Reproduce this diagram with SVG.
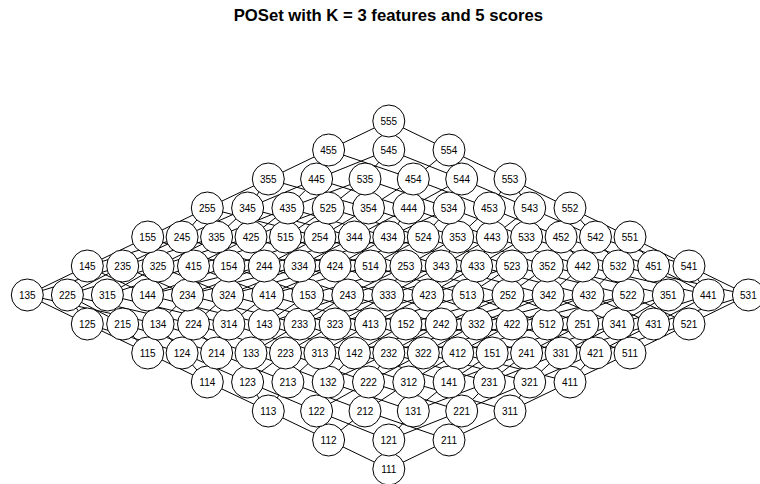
<svg xmlns="http://www.w3.org/2000/svg" width="760" height="484" viewBox="0 0 760 484">
<style>
.e path{stroke:#000;stroke-width:1;fill:none}
.n circle{fill:#fff;stroke:#000;stroke-width:1}
.n text{font-family:"Liberation Sans",Arial,sans-serif;font-size:10px;text-anchor:middle;fill:#000}
.title{font-family:"Liberation Sans",Arial,sans-serif;font-size:16.7px;font-weight:bold;text-anchor:middle;fill:#000}
</style>
<rect width="760" height="484" fill="#fff"/>
<text class="title" x="388.3" y="21">POSet with K = 3 features and 5 scores</text>
<g id="edges" class="e">
<path d="M388.8 469L449 440M388.8 469L388.8 440M388.8 469L328.6 440"/>
<path d="M328.6 440L365 411M328.6 440L316.6 411M328.6 440L268.3 411"/>
<path d="M388.8 440L461.7 411M388.8 440L413.3 411M388.8 440L316.6 411"/>
<path d="M449 440L510 411M449 440L461.7 411M449 440L365 411"/>
<path d="M268.3 411L287.9 382M268.3 411L247.6 382M268.3 411L207.3 382"/>
<path d="M316.6 411L368.5 382M316.6 411L328.2 382M316.6 411L247.6 382"/>
<path d="M365 411L408.8 382M365 411L368.5 382M365 411L287.9 382"/>
<path d="M413.3 411L489.4 382M413.3 411L449.1 382M413.3 411L328.2 382"/>
<path d="M461.7 411L529.7 382M461.7 411L489.4 382M461.7 411L368.5 382"/>
<path d="M510 411L570 382M510 411L529.7 382M510 411L408.8 382"/>
<path d="M207.3 382L216.6 353M207.3 382L182.1 353M207.3 382L147.7 353"/>
<path d="M247.6 382L285.5 353M247.6 382L251 353M247.6 382L182.1 353"/>
<path d="M287.9 382L319.9 353M287.9 382L285.5 353M287.9 382L216.6 353"/>
<path d="M328.2 382L388.8 353M328.2 382L354.4 353M328.2 382L251 353"/>
<path d="M368.5 382L423.3 353M368.5 382L388.8 353M368.5 382L285.5 353"/>
<path d="M408.8 382L457.7 353M408.8 382L423.3 353M408.8 382L319.9 353"/>
<path d="M449.1 382L526.6 353M449.1 382L492.2 353M449.1 382L354.4 353"/>
<path d="M489.4 382L561.1 353M489.4 382L526.6 353M489.4 382L388.8 353"/>
<path d="M529.7 382L595.5 353M529.7 382L561.1 353M529.7 382L423.3 353"/>
<path d="M570 382L630 353M570 382L595.5 353M570 382L457.7 353"/>
<path d="M147.7 353L122.7 324M147.7 353L87.3 324"/>
<path d="M182.1 353L193.5 324M182.1 353L158.1 324M182.1 353L87.3 324"/>
<path d="M216.6 353L228.9 324M216.6 353L193.5 324M216.6 353L122.7 324"/>
<path d="M251 353L299.7 324M251 353L264.3 324M251 353L158.1 324"/>
<path d="M285.5 353L335.1 324M285.5 353L299.7 324M285.5 353L193.5 324"/>
<path d="M319.9 353L370.5 324M319.9 353L335.1 324M319.9 353L228.9 324"/>
<path d="M354.4 353L441.2 324M354.4 353L405.9 324M354.4 353L264.3 324"/>
<path d="M388.8 353L476.6 324M388.8 353L441.2 324M388.8 353L299.7 324"/>
<path d="M423.3 353L512 324M423.3 353L476.6 324M423.3 353L335.1 324"/>
<path d="M457.7 353L547.4 324M457.7 353L512 324M457.7 353L370.5 324"/>
<path d="M492.2 353L582.8 324M492.2 353L405.9 324"/>
<path d="M526.6 353L618.2 324M526.6 353L582.8 324M526.6 353L441.2 324"/>
<path d="M561.1 353L653.6 324M561.1 353L618.2 324M561.1 353L476.6 324"/>
<path d="M595.5 353L689 324M595.5 353L653.6 324M595.5 353L512 324"/>
<path d="M630 353L689 324M630 353L547.4 324"/>
<path d="M87.3 324L67.4 295M87.3 324L27.3 295"/>
<path d="M122.7 324L107.4 295M122.7 324L67.4 295"/>
<path d="M158.1 324L187.5 295M158.1 324L147.5 295M158.1 324L27.3 295"/>
<path d="M193.5 324L227.6 295M193.5 324L187.5 295M193.5 324L67.4 295"/>
<path d="M228.9 324L267.7 295M228.9 324L227.6 295M228.9 324L107.4 295"/>
<path d="M264.3 324L347.8 295M264.3 324L307.7 295M264.3 324L147.5 295"/>
<path d="M299.7 324L387.8 295M299.7 324L347.8 295M299.7 324L187.5 295"/>
<path d="M335.1 324L427.9 295M335.1 324L387.8 295M335.1 324L227.6 295"/>
<path d="M370.5 324L467.9 295M370.5 324L427.9 295M370.5 324L267.7 295"/>
<path d="M405.9 324L508 295M405.9 324L307.7 295"/>
<path d="M441.2 324L548.1 295M441.2 324L508 295M441.2 324L347.8 295"/>
<path d="M476.6 324L588.1 295M476.6 324L548.1 295M476.6 324L387.8 295"/>
<path d="M512 324L628.2 295M512 324L588.1 295M512 324L427.9 295"/>
<path d="M547.4 324L628.2 295M547.4 324L467.9 295"/>
<path d="M582.8 324L668.3 295M582.8 324L508 295"/>
<path d="M618.2 324L708.3 295M618.2 324L668.3 295M618.2 324L548.1 295"/>
<path d="M653.6 324L748.4 295M653.6 324L708.3 295M653.6 324L588.1 295"/>
<path d="M689 324L748.4 295M689 324L628.2 295"/>
<path d="M27.3 295L122.7 266M27.3 295L87.3 266"/>
<path d="M67.4 295L158.1 266M67.4 295L122.7 266"/>
<path d="M107.4 295L193.5 266M107.4 295L158.1 266"/>
<path d="M147.5 295L264.3 266M147.5 295L228.9 266M147.5 295L87.3 266"/>
<path d="M187.5 295L299.7 266M187.5 295L264.3 266M187.5 295L122.7 266"/>
<path d="M227.6 295L335.1 266M227.6 295L299.7 266M227.6 295L158.1 266"/>
<path d="M267.7 295L370.5 266M267.7 295L335.1 266M267.7 295L193.5 266"/>
<path d="M307.7 295L405.9 266M307.7 295L228.9 266"/>
<path d="M347.8 295L441.2 266M347.8 295L405.9 266M347.8 295L264.3 266"/>
<path d="M387.8 295L476.6 266M387.8 295L441.2 266M387.8 295L299.7 266"/>
<path d="M427.9 295L512 266M427.9 295L476.6 266M427.9 295L335.1 266"/>
<path d="M467.9 295L512 266M467.9 295L370.5 266"/>
<path d="M508 295L547.4 266M508 295L405.9 266"/>
<path d="M548.1 295L582.8 266M548.1 295L547.4 266M548.1 295L441.2 266"/>
<path d="M588.1 295L618.2 266M588.1 295L582.8 266M588.1 295L476.6 266"/>
<path d="M628.2 295L618.2 266M628.2 295L512 266"/>
<path d="M668.3 295L653.6 266M668.3 295L547.4 266"/>
<path d="M708.3 295L689 266M708.3 295L653.6 266M708.3 295L582.8 266"/>
<path d="M748.4 295L689 266M748.4 295L618.2 266"/>
<path d="M87.3 266L182.1 237M87.3 266L147.7 237"/>
<path d="M122.7 266L216.6 237M122.7 266L182.1 237"/>
<path d="M158.1 266L251 237M158.1 266L216.6 237"/>
<path d="M193.5 266L285.5 237M193.5 266L251 237"/>
<path d="M228.9 266L319.9 237M228.9 266L147.7 237"/>
<path d="M264.3 266L354.4 237M264.3 266L319.9 237M264.3 266L182.1 237"/>
<path d="M299.7 266L388.8 237M299.7 266L354.4 237M299.7 266L216.6 237"/>
<path d="M335.1 266L423.3 237M335.1 266L388.8 237M335.1 266L251 237"/>
<path d="M370.5 266L423.3 237M370.5 266L285.5 237"/>
<path d="M405.9 266L457.7 237M405.9 266L319.9 237"/>
<path d="M441.2 266L492.2 237M441.2 266L457.7 237M441.2 266L354.4 237"/>
<path d="M476.6 266L526.6 237M476.6 266L492.2 237M476.6 266L388.8 237"/>
<path d="M512 266L526.6 237M512 266L423.3 237"/>
<path d="M547.4 266L561.1 237M547.4 266L457.7 237"/>
<path d="M582.8 266L595.5 237M582.8 266L561.1 237M582.8 266L492.2 237"/>
<path d="M618.2 266L595.5 237M618.2 266L526.6 237"/>
<path d="M653.6 266L630 237M653.6 266L561.1 237"/>
<path d="M689 266L630 237M689 266L595.5 237"/>
<path d="M147.7 237L207.3 208"/>
<path d="M182.1 237L247.6 208M182.1 237L207.3 208"/>
<path d="M216.6 237L287.9 208M216.6 237L247.6 208"/>
<path d="M251 237L328.2 208M251 237L287.9 208"/>
<path d="M285.5 237L328.2 208"/>
<path d="M319.9 237L368.5 208M319.9 237L207.3 208"/>
<path d="M354.4 237L408.8 208M354.4 237L368.5 208M354.4 237L247.6 208"/>
<path d="M388.8 237L449.1 208M388.8 237L408.8 208M388.8 237L287.9 208"/>
<path d="M423.3 237L449.1 208M423.3 237L328.2 208"/>
<path d="M457.7 237L489.4 208M457.7 237L368.5 208"/>
<path d="M492.2 237L529.7 208M492.2 237L489.4 208M492.2 237L408.8 208"/>
<path d="M526.6 237L529.7 208M526.6 237L449.1 208"/>
<path d="M561.1 237L570 208M561.1 237L489.4 208"/>
<path d="M595.5 237L570 208M595.5 237L529.7 208"/>
<path d="M630 237L570 208"/>
<path d="M207.3 208L268.3 179"/>
<path d="M247.6 208L316.6 179M247.6 208L268.3 179"/>
<path d="M287.9 208L365 179M287.9 208L316.6 179"/>
<path d="M328.2 208L365 179"/>
<path d="M368.5 208L413.3 179M368.5 208L268.3 179"/>
<path d="M408.8 208L461.7 179M408.8 208L413.3 179M408.8 208L316.6 179"/>
<path d="M449.1 208L461.7 179M449.1 208L365 179"/>
<path d="M489.4 208L510 179M489.4 208L413.3 179"/>
<path d="M529.7 208L510 179M529.7 208L461.7 179"/>
<path d="M570 208L510 179"/>
<path d="M268.3 179L328.6 150"/>
<path d="M316.6 179L388.8 150M316.6 179L328.6 150"/>
<path d="M365 179L388.8 150"/>
<path d="M413.3 179L449 150M413.3 179L328.6 150"/>
<path d="M461.7 179L449 150M461.7 179L388.8 150"/>
<path d="M510 179L449 150"/>
<path d="M328.6 150L388.8 121M388.8 150L388.8 121M449 150L388.8 121"/>
</g>
<g id="nodes" class="n">
<g id="n111"><circle cx="388.8" cy="469" r="16"/><text x="388.8" y="472.6">111</text></g>
<g id="n112"><circle cx="328.6" cy="440" r="16"/><text x="328.6" y="443.6">112</text></g>
<g id="n121"><circle cx="388.8" cy="440" r="16"/><text x="388.8" y="443.6">121</text></g>
<g id="n211"><circle cx="449" cy="440" r="16"/><text x="449" y="443.6">211</text></g>
<g id="n113"><circle cx="268.3" cy="411" r="16"/><text x="268.3" y="414.6">113</text></g>
<g id="n122"><circle cx="316.6" cy="411" r="16"/><text x="316.6" y="414.6">122</text></g>
<g id="n212"><circle cx="365" cy="411" r="16"/><text x="365" y="414.6">212</text></g>
<g id="n131"><circle cx="413.3" cy="411" r="16"/><text x="413.3" y="414.6">131</text></g>
<g id="n221"><circle cx="461.7" cy="411" r="16"/><text x="461.7" y="414.6">221</text></g>
<g id="n311"><circle cx="510" cy="411" r="16"/><text x="510" y="414.6">311</text></g>
<g id="n114"><circle cx="207.3" cy="382" r="16"/><text x="207.3" y="385.6">114</text></g>
<g id="n123"><circle cx="247.6" cy="382" r="16"/><text x="247.6" y="385.6">123</text></g>
<g id="n213"><circle cx="287.9" cy="382" r="16"/><text x="287.9" y="385.6">213</text></g>
<g id="n132"><circle cx="328.2" cy="382" r="16"/><text x="328.2" y="385.6">132</text></g>
<g id="n222"><circle cx="368.5" cy="382" r="16"/><text x="368.5" y="385.6">222</text></g>
<g id="n312"><circle cx="408.8" cy="382" r="16"/><text x="408.8" y="385.6">312</text></g>
<g id="n141"><circle cx="449.1" cy="382" r="16"/><text x="449.1" y="385.6">141</text></g>
<g id="n231"><circle cx="489.4" cy="382" r="16"/><text x="489.4" y="385.6">231</text></g>
<g id="n321"><circle cx="529.7" cy="382" r="16"/><text x="529.7" y="385.6">321</text></g>
<g id="n411"><circle cx="570" cy="382" r="16"/><text x="570" y="385.6">411</text></g>
<g id="n115"><circle cx="147.7" cy="353" r="16"/><text x="147.7" y="356.6">115</text></g>
<g id="n124"><circle cx="182.1" cy="353" r="16"/><text x="182.1" y="356.6">124</text></g>
<g id="n214"><circle cx="216.6" cy="353" r="16"/><text x="216.6" y="356.6">214</text></g>
<g id="n133"><circle cx="251" cy="353" r="16"/><text x="251" y="356.6">133</text></g>
<g id="n223"><circle cx="285.5" cy="353" r="16"/><text x="285.5" y="356.6">223</text></g>
<g id="n313"><circle cx="319.9" cy="353" r="16"/><text x="319.9" y="356.6">313</text></g>
<g id="n142"><circle cx="354.4" cy="353" r="16"/><text x="354.4" y="356.6">142</text></g>
<g id="n232"><circle cx="388.8" cy="353" r="16"/><text x="388.8" y="356.6">232</text></g>
<g id="n322"><circle cx="423.3" cy="353" r="16"/><text x="423.3" y="356.6">322</text></g>
<g id="n412"><circle cx="457.7" cy="353" r="16"/><text x="457.7" y="356.6">412</text></g>
<g id="n151"><circle cx="492.2" cy="353" r="16"/><text x="492.2" y="356.6">151</text></g>
<g id="n241"><circle cx="526.6" cy="353" r="16"/><text x="526.6" y="356.6">241</text></g>
<g id="n331"><circle cx="561.1" cy="353" r="16"/><text x="561.1" y="356.6">331</text></g>
<g id="n421"><circle cx="595.5" cy="353" r="16"/><text x="595.5" y="356.6">421</text></g>
<g id="n511"><circle cx="630" cy="353" r="16"/><text x="630" y="356.6">511</text></g>
<g id="n125"><circle cx="87.3" cy="324" r="16"/><text x="87.3" y="327.6">125</text></g>
<g id="n215"><circle cx="122.7" cy="324" r="16"/><text x="122.7" y="327.6">215</text></g>
<g id="n134"><circle cx="158.1" cy="324" r="16"/><text x="158.1" y="327.6">134</text></g>
<g id="n224"><circle cx="193.5" cy="324" r="16"/><text x="193.5" y="327.6">224</text></g>
<g id="n314"><circle cx="228.9" cy="324" r="16"/><text x="228.9" y="327.6">314</text></g>
<g id="n143"><circle cx="264.3" cy="324" r="16"/><text x="264.3" y="327.6">143</text></g>
<g id="n233"><circle cx="299.7" cy="324" r="16"/><text x="299.7" y="327.6">233</text></g>
<g id="n323"><circle cx="335.1" cy="324" r="16"/><text x="335.1" y="327.6">323</text></g>
<g id="n413"><circle cx="370.5" cy="324" r="16"/><text x="370.5" y="327.6">413</text></g>
<g id="n152"><circle cx="405.9" cy="324" r="16"/><text x="405.9" y="327.6">152</text></g>
<g id="n242"><circle cx="441.2" cy="324" r="16"/><text x="441.2" y="327.6">242</text></g>
<g id="n332"><circle cx="476.6" cy="324" r="16"/><text x="476.6" y="327.6">332</text></g>
<g id="n422"><circle cx="512" cy="324" r="16"/><text x="512" y="327.6">422</text></g>
<g id="n512"><circle cx="547.4" cy="324" r="16"/><text x="547.4" y="327.6">512</text></g>
<g id="n251"><circle cx="582.8" cy="324" r="16"/><text x="582.8" y="327.6">251</text></g>
<g id="n341"><circle cx="618.2" cy="324" r="16"/><text x="618.2" y="327.6">341</text></g>
<g id="n431"><circle cx="653.6" cy="324" r="16"/><text x="653.6" y="327.6">431</text></g>
<g id="n521"><circle cx="689" cy="324" r="16"/><text x="689" y="327.6">521</text></g>
<g id="n135"><circle cx="27.3" cy="295" r="16"/><text x="27.3" y="298.6">135</text></g>
<g id="n225"><circle cx="67.4" cy="295" r="16"/><text x="67.4" y="298.6">225</text></g>
<g id="n315"><circle cx="107.4" cy="295" r="16"/><text x="107.4" y="298.6">315</text></g>
<g id="n144"><circle cx="147.5" cy="295" r="16"/><text x="147.5" y="298.6">144</text></g>
<g id="n234"><circle cx="187.5" cy="295" r="16"/><text x="187.5" y="298.6">234</text></g>
<g id="n324"><circle cx="227.6" cy="295" r="16"/><text x="227.6" y="298.6">324</text></g>
<g id="n414"><circle cx="267.7" cy="295" r="16"/><text x="267.7" y="298.6">414</text></g>
<g id="n153"><circle cx="307.7" cy="295" r="16"/><text x="307.7" y="298.6">153</text></g>
<g id="n243"><circle cx="347.8" cy="295" r="16"/><text x="347.8" y="298.6">243</text></g>
<g id="n333"><circle cx="387.8" cy="295" r="16"/><text x="387.8" y="298.6">333</text></g>
<g id="n423"><circle cx="427.9" cy="295" r="16"/><text x="427.9" y="298.6">423</text></g>
<g id="n513"><circle cx="467.9" cy="295" r="16"/><text x="467.9" y="298.6">513</text></g>
<g id="n252"><circle cx="508" cy="295" r="16"/><text x="508" y="298.6">252</text></g>
<g id="n342"><circle cx="548.1" cy="295" r="16"/><text x="548.1" y="298.6">342</text></g>
<g id="n432"><circle cx="588.1" cy="295" r="16"/><text x="588.1" y="298.6">432</text></g>
<g id="n522"><circle cx="628.2" cy="295" r="16"/><text x="628.2" y="298.6">522</text></g>
<g id="n351"><circle cx="668.3" cy="295" r="16"/><text x="668.3" y="298.6">351</text></g>
<g id="n441"><circle cx="708.3" cy="295" r="16"/><text x="708.3" y="298.6">441</text></g>
<g id="n531"><circle cx="748.4" cy="295" r="16"/><text x="748.4" y="298.6">531</text></g>
<g id="n145"><circle cx="87.3" cy="266" r="16"/><text x="87.3" y="269.6">145</text></g>
<g id="n235"><circle cx="122.7" cy="266" r="16"/><text x="122.7" y="269.6">235</text></g>
<g id="n325"><circle cx="158.1" cy="266" r="16"/><text x="158.1" y="269.6">325</text></g>
<g id="n415"><circle cx="193.5" cy="266" r="16"/><text x="193.5" y="269.6">415</text></g>
<g id="n154"><circle cx="228.9" cy="266" r="16"/><text x="228.9" y="269.6">154</text></g>
<g id="n244"><circle cx="264.3" cy="266" r="16"/><text x="264.3" y="269.6">244</text></g>
<g id="n334"><circle cx="299.7" cy="266" r="16"/><text x="299.7" y="269.6">334</text></g>
<g id="n424"><circle cx="335.1" cy="266" r="16"/><text x="335.1" y="269.6">424</text></g>
<g id="n514"><circle cx="370.5" cy="266" r="16"/><text x="370.5" y="269.6">514</text></g>
<g id="n253"><circle cx="405.9" cy="266" r="16"/><text x="405.9" y="269.6">253</text></g>
<g id="n343"><circle cx="441.2" cy="266" r="16"/><text x="441.2" y="269.6">343</text></g>
<g id="n433"><circle cx="476.6" cy="266" r="16"/><text x="476.6" y="269.6">433</text></g>
<g id="n523"><circle cx="512" cy="266" r="16"/><text x="512" y="269.6">523</text></g>
<g id="n352"><circle cx="547.4" cy="266" r="16"/><text x="547.4" y="269.6">352</text></g>
<g id="n442"><circle cx="582.8" cy="266" r="16"/><text x="582.8" y="269.6">442</text></g>
<g id="n532"><circle cx="618.2" cy="266" r="16"/><text x="618.2" y="269.6">532</text></g>
<g id="n451"><circle cx="653.6" cy="266" r="16"/><text x="653.6" y="269.6">451</text></g>
<g id="n541"><circle cx="689" cy="266" r="16"/><text x="689" y="269.6">541</text></g>
<g id="n155"><circle cx="147.7" cy="237" r="16"/><text x="147.7" y="240.6">155</text></g>
<g id="n245"><circle cx="182.1" cy="237" r="16"/><text x="182.1" y="240.6">245</text></g>
<g id="n335"><circle cx="216.6" cy="237" r="16"/><text x="216.6" y="240.6">335</text></g>
<g id="n425"><circle cx="251" cy="237" r="16"/><text x="251" y="240.6">425</text></g>
<g id="n515"><circle cx="285.5" cy="237" r="16"/><text x="285.5" y="240.6">515</text></g>
<g id="n254"><circle cx="319.9" cy="237" r="16"/><text x="319.9" y="240.6">254</text></g>
<g id="n344"><circle cx="354.4" cy="237" r="16"/><text x="354.4" y="240.6">344</text></g>
<g id="n434"><circle cx="388.8" cy="237" r="16"/><text x="388.8" y="240.6">434</text></g>
<g id="n524"><circle cx="423.3" cy="237" r="16"/><text x="423.3" y="240.6">524</text></g>
<g id="n353"><circle cx="457.7" cy="237" r="16"/><text x="457.7" y="240.6">353</text></g>
<g id="n443"><circle cx="492.2" cy="237" r="16"/><text x="492.2" y="240.6">443</text></g>
<g id="n533"><circle cx="526.6" cy="237" r="16"/><text x="526.6" y="240.6">533</text></g>
<g id="n452"><circle cx="561.1" cy="237" r="16"/><text x="561.1" y="240.6">452</text></g>
<g id="n542"><circle cx="595.5" cy="237" r="16"/><text x="595.5" y="240.6">542</text></g>
<g id="n551"><circle cx="630" cy="237" r="16"/><text x="630" y="240.6">551</text></g>
<g id="n255"><circle cx="207.3" cy="208" r="16"/><text x="207.3" y="211.6">255</text></g>
<g id="n345"><circle cx="247.6" cy="208" r="16"/><text x="247.6" y="211.6">345</text></g>
<g id="n435"><circle cx="287.9" cy="208" r="16"/><text x="287.9" y="211.6">435</text></g>
<g id="n525"><circle cx="328.2" cy="208" r="16"/><text x="328.2" y="211.6">525</text></g>
<g id="n354"><circle cx="368.5" cy="208" r="16"/><text x="368.5" y="211.6">354</text></g>
<g id="n444"><circle cx="408.8" cy="208" r="16"/><text x="408.8" y="211.6">444</text></g>
<g id="n534"><circle cx="449.1" cy="208" r="16"/><text x="449.1" y="211.6">534</text></g>
<g id="n453"><circle cx="489.4" cy="208" r="16"/><text x="489.4" y="211.6">453</text></g>
<g id="n543"><circle cx="529.7" cy="208" r="16"/><text x="529.7" y="211.6">543</text></g>
<g id="n552"><circle cx="570" cy="208" r="16"/><text x="570" y="211.6">552</text></g>
<g id="n355"><circle cx="268.3" cy="179" r="16"/><text x="268.3" y="182.6">355</text></g>
<g id="n445"><circle cx="316.6" cy="179" r="16"/><text x="316.6" y="182.6">445</text></g>
<g id="n535"><circle cx="365" cy="179" r="16"/><text x="365" y="182.6">535</text></g>
<g id="n454"><circle cx="413.3" cy="179" r="16"/><text x="413.3" y="182.6">454</text></g>
<g id="n544"><circle cx="461.7" cy="179" r="16"/><text x="461.7" y="182.6">544</text></g>
<g id="n553"><circle cx="510" cy="179" r="16"/><text x="510" y="182.6">553</text></g>
<g id="n455"><circle cx="328.6" cy="150" r="16"/><text x="328.6" y="153.6">455</text></g>
<g id="n545"><circle cx="388.8" cy="150" r="16"/><text x="388.8" y="153.6">545</text></g>
<g id="n554"><circle cx="449" cy="150" r="16"/><text x="449" y="153.6">554</text></g>
<g id="n555"><circle cx="388.8" cy="121" r="16"/><text x="388.8" y="124.6">555</text></g>
</g>
</svg>
